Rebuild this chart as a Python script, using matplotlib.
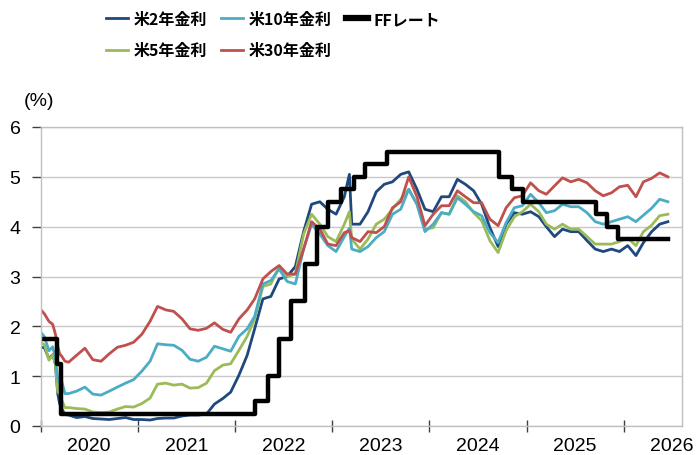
"""
US Treasury yields (2Y / 5Y / 10Y / 30Y) with the Fed funds target (upper bound).
"""

import pandas as pd
import matplotlib
matplotlib.use("Agg")
import matplotlib.pyplot as plt
import matplotlib.dates as mdates
from matplotlib.lines import Line2D
from matplotlib.ticker import NullFormatter, MultipleLocator
from matplotlib.font_manager import FontProperties

plt.rcParams['font.family'] = ['Liberation Sans', 'Noto Sans CJK JP', 'DejaVu Sans']

# --- observation dates (early 2020 denser, then mid-month) ---
early_2020 = ['2020-01-02', '2020-01-15', '2020-02-01', '2020-02-15', '2020-02-25',
              '2020-03-05', '2020-03-12', '2020-03-20', '2020-04-01', '2020-04-15']
monthly = [f'{y}-{m:02d}-15' for y in range(2020, 2027) for m in range(1, 13)
           if '2020-05' <= f'{y}-{m:02d}' <= '2026-05']
extra = ['2023-03-06', '2026-06-15']
dates = pd.to_datetime(sorted(early_2020 + monthly + extra))

# --- yields (%) ---
y2 = [1.58, 1.57, 1.35, 1.43, 1.25, 0.65, 0.45, 0.35, 0.23, 0.22,
      0.17, 0.19, 0.15, 0.14, 0.13, 0.15, 0.17, 0.13,
      0.13, 0.12, 0.15, 0.16, 0.16, 0.20, 0.22, 0.22, 0.24, 0.44, 0.55, 0.68,
      1.02, 1.42, 1.95, 2.55, 2.60, 2.95, 3.00, 3.20, 3.90, 4.45, 4.50, 4.35,
      4.25, 4.60, 5.05, 4.05, 4.05, 4.30, 4.70, 4.85, 4.90, 5.05, 5.10, 4.75, 4.35,
      4.30, 4.60, 4.60, 4.95, 4.85, 4.72, 4.45, 3.98, 3.60, 4.05, 4.28, 4.25,
      4.30, 4.20, 4.00, 3.80, 3.95, 3.90, 3.90, 3.72, 3.55, 3.50, 3.55, 3.50,
      3.62, 3.42, 3.68, 3.90, 4.05, 4.10]
y5 = [1.67, 1.63, 1.32, 1.43, 1.24, 0.68, 0.66, 0.52, 0.37, 0.37,
      0.35, 0.34, 0.28, 0.27, 0.28, 0.34, 0.39, 0.38,
      0.45, 0.56, 0.84, 0.86, 0.82, 0.84, 0.76, 0.77, 0.86, 1.11, 1.22, 1.25,
      1.52, 1.80, 2.15, 2.80, 2.85, 3.20, 3.00, 3.05, 3.85, 4.25, 4.05, 3.80,
      3.70, 4.05, 4.30, 3.75, 3.55, 3.75, 4.05, 4.15, 4.35, 4.55, 4.75, 4.45, 3.95,
      3.98, 4.28, 4.25, 4.62, 4.50, 4.28, 4.12, 3.72, 3.48, 3.92, 4.20, 4.30,
      4.45, 4.30, 4.05, 3.95, 4.05, 3.95, 3.95, 3.80, 3.65, 3.65, 3.65, 3.70,
      3.77, 3.62, 3.90, 4.03, 4.22, 4.25]
y10 = [1.88, 1.79, 1.51, 1.59, 1.38, 0.95, 0.85, 0.90, 0.65, 0.65,
       0.70, 0.78, 0.64, 0.62, 0.70, 0.78, 0.86, 0.93,
       1.10, 1.30, 1.65, 1.63, 1.62, 1.52, 1.34, 1.30, 1.38, 1.60, 1.55, 1.50,
       1.80, 1.95, 2.20, 2.85, 2.92, 3.15, 2.90, 2.85, 3.55, 4.05, 3.85, 3.62,
       3.50, 3.80, 3.97, 3.55, 3.50, 3.60, 3.78, 3.90, 4.25, 4.35, 4.75, 4.45, 3.90,
       4.05, 4.28, 4.25, 4.58, 4.45, 4.30, 4.22, 3.88, 3.68, 4.08, 4.38, 4.42,
       4.65, 4.48, 4.28, 4.32, 4.45, 4.40, 4.40, 4.28, 4.10, 4.05, 4.10, 4.15,
       4.20, 4.10, 4.23, 4.37, 4.55, 4.50]
y30 = [2.33, 2.25, 2.10, 2.04, 1.85, 1.60, 1.45, 1.40, 1.30, 1.28,
       1.42, 1.56, 1.33, 1.30, 1.45, 1.58, 1.62, 1.68,
       1.84, 2.10, 2.40, 2.33, 2.30, 2.15, 1.95, 1.92, 1.96, 2.07, 1.94, 1.88,
       2.15, 2.33, 2.55, 2.95, 3.10, 3.22, 3.05, 3.05, 3.55, 4.10, 3.95, 3.65,
       3.62, 3.88, 3.92, 3.78, 3.70, 3.90, 3.88, 4.00, 4.38, 4.50, 5.00, 4.60, 4.02,
       4.25, 4.42, 4.42, 4.72, 4.60, 4.48, 4.48, 4.15, 4.02, 4.38, 4.58, 4.62,
       4.88, 4.72, 4.65, 4.82, 4.98, 4.90, 4.95, 4.88, 4.72, 4.62, 4.68, 4.80,
       4.83, 4.60, 4.90, 4.97, 5.08, 5.00]

# --- FF rate (upper bound), step changes ---
ff_dates = pd.to_datetime(['2020-01-01', '2020-03-03', '2020-03-16', '2022-03-17', '2022-05-05',
                           '2022-06-16', '2022-07-28', '2022-09-22', '2022-11-03', '2022-12-15',
                           '2023-02-02', '2023-03-23', '2023-05-04', '2023-07-27', '2024-09-19',
                           '2024-11-08', '2024-12-19', '2025-09-18', '2025-10-30', '2025-12-11',
                           '2026-06-15'])
ff_rate = [1.75, 1.25, 0.25, 0.50, 1.00, 1.75, 2.50, 3.25, 4.00, 4.50,
           4.75, 5.00, 5.25, 5.50, 5.00, 4.75, 4.50, 4.25, 4.00, 3.75, 3.75]

series = [
    ('米2年金利', y2, '#1f497d'),
    ('米5年金利', y5, '#9bbb59'),
    ('米10年金利', y10, '#4bacc6'),
    ('米30年金利', y30, '#c0504d'),
]

W, H = 697, 456
fig = plt.figure(figsize=(W / 100, H / 100), dpi=100)
ax = fig.add_axes([40.7 / W, 1 - 427 / H, (682 - 40.7) / W, (427 - 128) / H])

for label, vals, color in series:
    ax.plot(dates, vals, color=color, lw=2.0, label=label)
ax.step(ff_dates, ff_rate, where='post', color='black', lw=3.2, label='FFレート')

ax.set_ylim(0, 6)
ax.set_xlim(pd.Timestamp('2020-01-01'), pd.Timestamp('2026-08-07'))
ax.yaxis.set_major_locator(MultipleLocator(1))
ax.yaxis.grid(True, color='#c8c8c8', lw=1)
ax.set_axisbelow(True)

ax.xaxis.set_major_locator(mdates.YearLocator())
ax.xaxis.set_major_formatter(NullFormatter())
ax.xaxis.set_minor_locator(mdates.MonthLocator(bymonth=7))
ax.xaxis.set_minor_formatter(mdates.DateFormatter('%Y'))
ax.tick_params(axis='x', which='major', direction='inout', length=8, width=1, color='#404040')
ax.tick_params(axis='x', which='minor', length=0, labelsize=14, pad=8)
ax.tick_params(axis='y', direction='out', length=6.5, width=1, color='#404040', labelsize=14, pad=8)

for s in ax.spines.values():
    s.set_color('#c0c0c0')
    s.set_linewidth(1)

fig.text(39 / W, 1 - 101 / H, '(%)', ha='center', va='center', fontsize=14)

# legend: row 1 = 2Y, 10Y, FF ; row 2 = 5Y, 30Y
handles = [Line2D([], [], color=c, lw=2) for _, _, c in series]
handles.append(Line2D([], [], color='black', lw=4.5))
labels = [s[0] for s in series] + ['FFレート']
leg_font = FontProperties(family=['Noto Sans CJK JP'], weight='bold', size=11.5)
fig.legend(handles, labels, loc='upper left', bbox_to_anchor=(106 / W, 1 - 12 / H),
           ncol=3, frameon=False, prop=leg_font, handlelength=1.37, handletextpad=0.37,
           columnspacing=0.87, labelspacing=0.95, borderpad=0, borderaxespad=0)

fig.savefig('out.png', dpi=100)
